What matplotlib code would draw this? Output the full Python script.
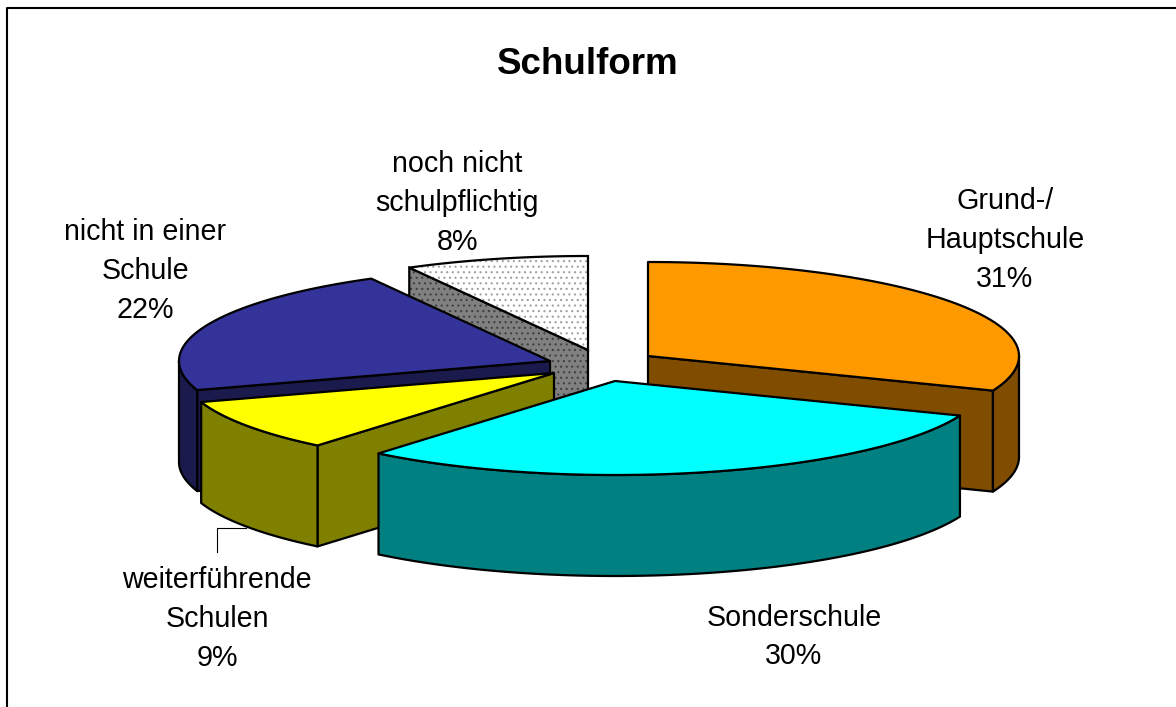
import numpy as np
import matplotlib
matplotlib.use("Agg")
import matplotlib.pyplot as plt
from matplotlib.patches import Polygon

plt.rcParams['font.family'] = ['Liberation Sans', 'DejaVu Sans']
plt.rcParams['hatch.linewidth'] = 0.8

title = "Schulform"
labels = ["Grund-/\nHauptschule", "Sonderschule", "weiterführende\nSchulen",
          "nicht in einer\nSchule", "noch nicht\nschulpflichtig"]
values = [31, 30, 9, 22, 8]

# layout, all in pixels of the picture
centers = [(648, 356), (615, 381), (554, 373), (550, 361), (588, 350)]
label_pos = [(1005, 240), (794, 637), (217, 619), (145, 271), (457, 203)]
top_colors = ['#FF9900', '#00FFFF', '#FFFF00', '#333399', 'white']
side_colors = ['#7F4C00', '#008080', '#808000', '#1A1A4D', '#808080']
draw_order = [4, 0, 3, 2, 1]
rx, ry, depth = 371, 94, 101


def rim_point(c, angle):
    a = np.radians(angle)
    return np.column_stack([c[0] + rx * np.sin(a), c[1] - ry * np.cos(a)])


def add_face(ax, pts, color, dotted):
    if dotted:
        hatch_color = '#A0A0A0' if color == 'white' else '#404040'
        ax.add_patch(Polygon(pts, facecolor=color, edgecolor=hatch_color,
                             hatch='...', linewidth=0))
        ax.add_patch(Polygon(pts, fill=False, edgecolor='black', linewidth=1.6))
    else:
        ax.add_patch(Polygon(pts, facecolor=color, edgecolor='black',
                             linewidth=1.6, joinstyle='round'))


def draw_slice(ax, i, start, end):
    c = centers[i]
    down = np.array([0, depth])
    dotted = i == 4
    side = side_colors[i]

    # cut faces, only the ones turned to the viewer
    for angle, visible in [(start, np.sin(np.radians(start)) < -1e-6),
                           (end, np.sin(np.radians(end)) > 1e-6)]:
        if visible:
            p = rim_point(c, angle)[0]
            add_face(ax, [c, p, p + down, np.array(c) + down], side, dotted)

    # outer wall, the front half of the ellipse
    lo, hi = max(start, 90), min(end, 270)
    if lo < hi:
        arc = rim_point(c, np.linspace(lo, hi, 80))
        add_face(ax, np.vstack([arc, (arc + down)[::-1]]), side, dotted)

    arc = rim_point(c, np.linspace(start, end, 120))
    add_face(ax, np.vstack([[c], arc]), top_colors[i], dotted)


fig = plt.figure(figsize=(11.76, 7.07), dpi=100)
ax = fig.add_axes([0, 0, 1, 1])
ax.set_xlim(0, 1176)
ax.set_ylim(707, 0)
ax.axis('off')

# chart frame, right and bottom are cut off in the original
ax.plot([7, 7, 1176], [707, 8, 8], color='black', linewidth=1.5)

ax.plot([217, 217, 246], [552, 528, 528], color='black', linewidth=0.8)

edges = np.concatenate([[0], np.cumsum(values)]) / sum(values) * 360
for i in draw_order:
    draw_slice(ax, i, edges[i], edges[i + 1])

ax.text(588, 64, title, fontsize=26.5, fontweight='bold', ha='center', va='center')
for label, value, (x, y) in zip(labels, values, label_pos):
    ax.text(x, y, f"{label}\n{value}%", fontsize=20.6, ha='center', va='center',
            linespacing=1.5)

fig.savefig("out.png", dpi=100)
